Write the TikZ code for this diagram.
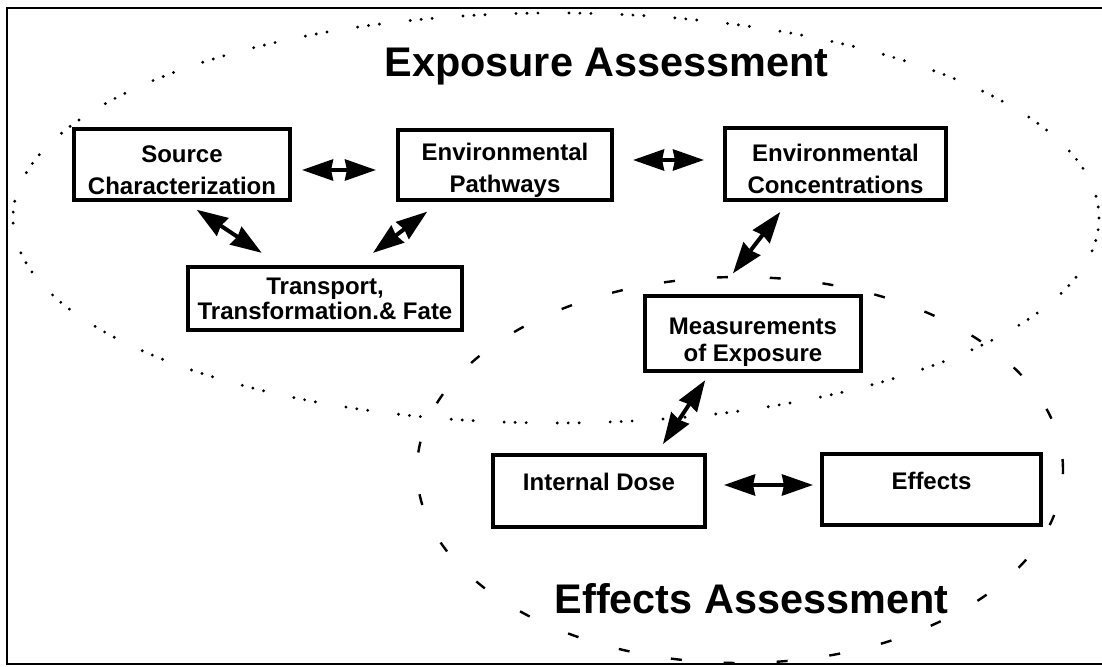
\documentclass[tikz,border=0pt]{standalone}
\usepackage{fontspec}
\setmainfont{Liberation Sans}
\usetikzlibrary{arrows.meta,calc}
\tikzset{
  box/.style={draw, line width=2pt, fill=white, inner sep=0pt, align=center,
    font=\fontsize{12}{16}\selectfont\bfseries},
  link/.style={line width=2pt,
    {Stealth[length=15.5pt,width=10.5pt,inset=1pt]}-{Stealth[length=15.5pt,width=10.5pt,inset=1pt]}},
  heading/.style={font=\fontsize{20.7}{24}\selectfont\bfseries, anchor=base, inner sep=0pt},
  exposure/.style={line width=1.6pt, line cap=round,
    dash pattern=on 0pt off 5.5pt on 0pt off 5.5pt on 0pt off 15.5pt},
  effects/.style={line width=1.2pt, dash pattern=on 5.5pt off 21pt},
}
\begin{document}
\begin{tikzpicture}[x=0.5pt,y=-0.5pt]
\useasboundingbox (0,0) rectangle (1102,667);
% outer frame (open on the right)
\draw[line width=1.3pt] (1110,8) -- (7,8) -- (7,664) -- (1110,664);

% assessment regions
\draw[exposure] (556,218) ellipse [x radius=271.5pt, y radius=102.5pt];
\draw[effects] (740,470) ellipse [x radius=161.5pt, y radius=96.5pt];

% headings
\node[heading] (expo) at (606.5,77) {Exposure Assessment};
\node[heading] (effa) at (751.5,613) {Effects Assessment};

% steps
\node[box, minimum width=108pt, minimum height=35.5pt] (src) at (182,164.5)
  {\rule{0pt}{13.7pt}Source\\Characterization};
\node[box, minimum width=107pt, minimum height=35pt] (ep) at (505,165)
  {\rule{0pt}{13.7pt}Environmental\\Pathways};
\node[box, minimum width=110.5pt, minimum height=36pt] (ec) at (835.5,164)
  {\rule{0pt}{13.7pt}Environmental\\Concentrations};
\node[box, minimum width=137pt, minimum height=31.5pt,
  font=\fontsize{12}{12.5}\selectfont\bfseries] (tr) at (325,298.5)
  {Transport,\\Transformation.\& Fate};
\node[box, minimum width=108pt, minimum height=37.5pt,
  font=\fontsize{12}{13.5}\selectfont\bfseries] (me) at (753,333.5)
  {\rule{0pt}{16.7pt}Measurements\\of Exposure};
\node[box, minimum width=106pt, minimum height=36pt, text depth=9pt] (id) at (599,491)
  {Internal Dose};
\node[box, minimum width=109.5pt, minimum height=35.5pt, text depth=9pt] (ef) at (931.5,489.5)
  {Effects};

% links
\draw[link, shorten <=5pt, shorten >=10pt] ($(src.east)+(0,5.5)$) -- ($(ep.west)+(0,5)$);
\draw[link, shorten <=9.5pt, shorten >=9.5pt] ($(ep.east)+(0,-5)$) -- ($(ec.west)+(0,-4)$);
\draw[link, shorten <=7pt, shorten >=11pt] ($(src.south)+(3,0)$) -- ($(tr.north)+(-45,0)$);
\draw[link, shorten <=8pt, shorten >=10pt] ($(ep.south)+(-65,0)$) -- ($(tr.north)+(32,0)$);
\draw[link, shorten <=6.3pt, shorten >=13pt] ($(ec.south)+(-47.5,0)$) -- ($(me.north)+(-36,0)$);
\draw[link, shorten <=4.3pt, shorten >=5.4pt] ($(me.south)+(-43,0)$) -- ($(id.north)+(58,0)$);
\draw[link, shorten <=8.5pt, shorten >=3.5pt] ($(id.east)+(0,-6)$) -- ($(ef.west)+(0,-4.5)$);
\end{tikzpicture}
\end{document}
